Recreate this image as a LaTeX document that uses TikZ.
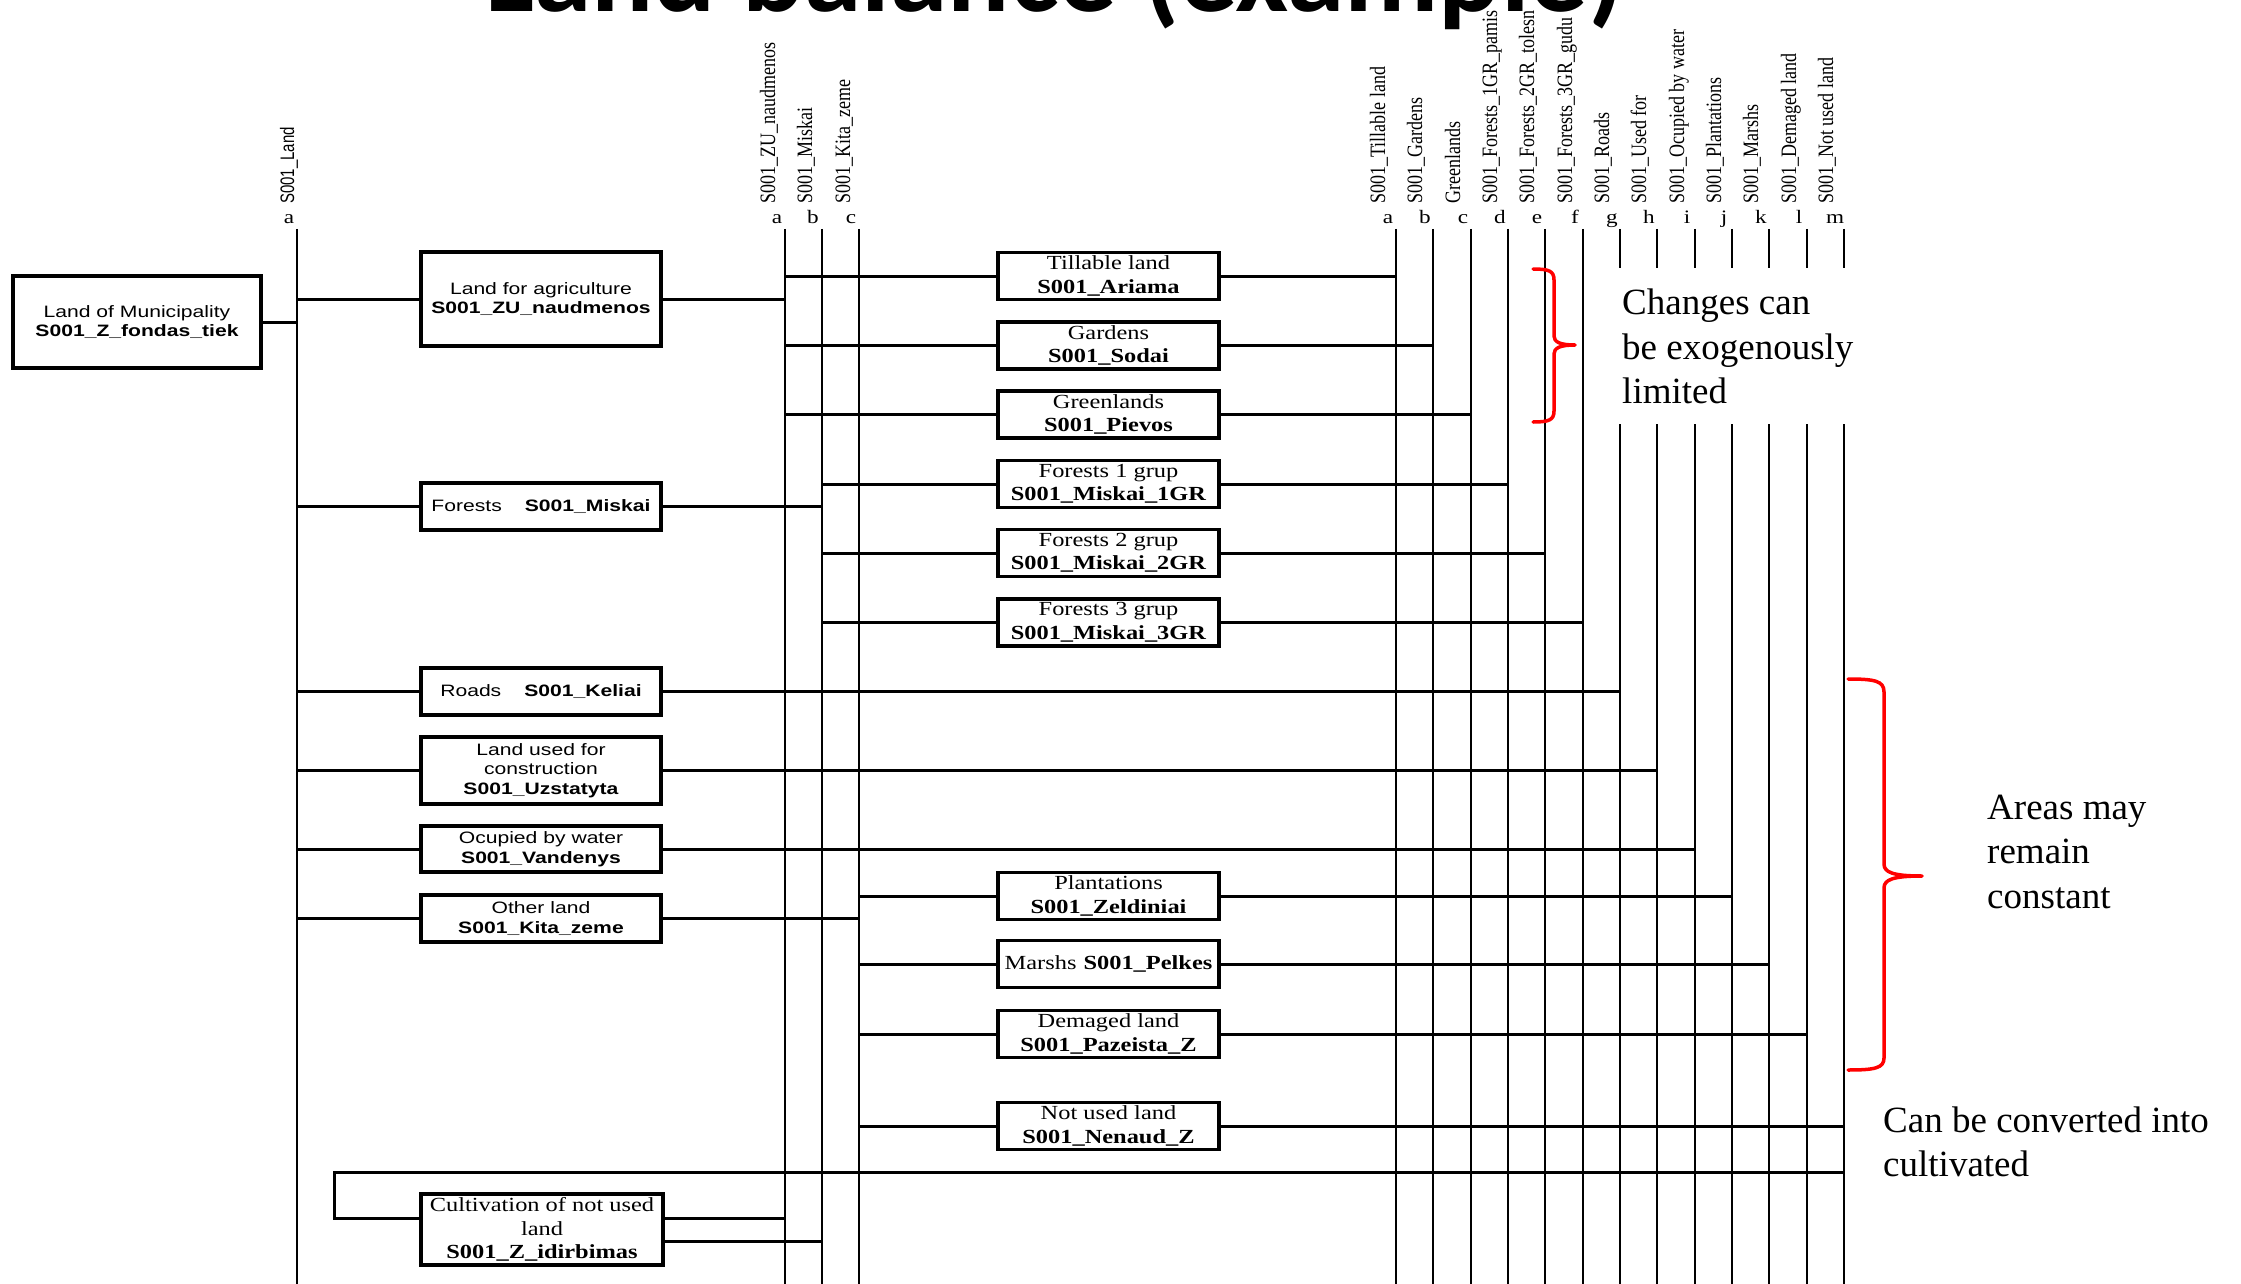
\documentclass[tikz,border=0pt]{standalone}
\usepackage{fontspec}
\usepackage{graphicx}
\setmainfont{Liberation Serif}
\newfontfamily\boxsans[FakeStretch=1.28]{Liberation Sans}
\newfontfamily\boxserif[FakeStretch=1.22]{Liberation Serif}
\newfontfamily\plainsans{Liberation Sans}
\newfontfamily\titlefont{Carlito}
\newcommand\lbxfont{\boxsans\fontsize{16.5}{19.5}\selectfont}
\newcommand\mbxfont{\boxserif\fontsize{20}{23.5}\selectfont}
\newcommand\vlabserif[1]{\scalebox{1}[1.22]{\fontsize{18}{18}\selectfont #1}}
\newcommand\vlabsans[1]{\scalebox{1}[1.3]{\plainsans\fontsize{15}{15}\selectfont #1}}
\begin{document}
\begin{tikzpicture}[x=1pt,y=-1pt,
  box/.style={draw, line width=3.3pt, inner sep=0pt, align=center},
  lbox/.style={box, minimum width=240pt, font=\lbxfont},
  mbox/.style={box, minimum width=221pt, minimum height=47pt, font=\mbxfont},
  bus/.style={line width=2.2pt},
  conn/.style={line width=3pt},
  brace/.style={red, line width=3.5pt, line join=round, line cap=round},
  vlab/.style={rotate=90, anchor=base west, inner sep=0pt},
  letter/.style={anchor=base, inner sep=0pt, font=\boxserif\fontsize{19}{19}\selectfont},
  note/.style={anchor=base west, inner sep=0pt, font=\fontsize{37}{44.5}\selectfont}]
\useasboundingbox (0,0) rectangle (2241,1284);
\fill[white] (0,0) rectangle (2241,1284);

% bus coordinates
\foreach \n/\x in {La/297, Ma/785, Mb/822, Mc/859, Ra/1396, Rb/1433, Rc/1471, Rd/1508, Re/1545, Rf/1583, Rg/1620, Rh/1657, Ri/1695, Rj/1732, Rk/1769, Rl/1807, Rm/1844}{
  \coordinate (\n-t) at (\x,229);
  \coordinate (\n-g1) at (\x,268);
  \coordinate (\n-g2) at (\x,424);
  \coordinate (\n-b) at (\x,1284);
}
\foreach \n in {La,Ma,Mb,Mc,Ra,Rb,Rc,Rd,Re,Rf}{\draw[bus] (\n-t) -- (\n-b);}
\foreach \n in {Rg,Rh,Ri,Rj,Rk,Rl,Rm}{\draw[bus] (\n-t) -- (\n-g1); \draw[bus] (\n-g2) -- (\n-b);}

% vertical labels
\node[vlab] (vLand) at (294,204) {\vlabsans{S001\_Land}};
\node[vlab] (vZU) at (775,204) {\vlabserif{S001\_ZU\_naudmenos}};
\node[vlab] (vMis) at (812,204) {\vlabserif{S001\_Miskai}};
\node[vlab] (vKit) at (850,204) {\vlabserif{S001\_Kita\_zeme}};
\node[vlab] (vRa) at (1385,204) {\vlabserif{S001\_Tillable land}};
\node[vlab] (vRb) at (1422,204) {\vlabserif{S001\_Gardens}};
\node[vlab] (vRc) at (1460,204) {\vlabserif{Greenlands}};
\node[vlab] (vRd) at (1497,204) {\vlabserif{S001\_Forests\_1GR\_pamis}};
\node[vlab] (vRe) at (1534,204) {\vlabserif{S001\_Forests\_2GR\_tolesn}};
\node[vlab] (vRf) at (1572,204) {\vlabserif{S001\_Forests\_3GR\_gudu}};
\node[vlab] (vRg) at (1609,204) {\vlabserif{S001\_Roads}};
\node[vlab] (vRh) at (1646,204) {\vlabserif{S001\_Used for}};
\node[vlab] (vRi) at (1684,204) {\vlabserif{S001\_Ocupied by water}};
\node[vlab] (vRj) at (1721,204) {\vlabserif{S001\_Plantations}};
\node[vlab] (vRk) at (1758,204) {\vlabserif{S001\_Marshs}};
\node[vlab] (vRl) at (1796,204) {\vlabserif{S001\_Demaged land}};
\node[vlab] (vRm) at (1833,204) {\vlabserif{S001\_Not used land}};

% letters
\node[letter] (tLa) at (289,224) {a};
\node[letter] (tMa) at (777,224) {a};
\node[letter] (tMb) at (813,224) {b};
\node[letter] (tMc) at (851,224) {c};
\foreach \l/\x in {a/1388, b/1425, c/1463, d/1500, e/1537, f/1575, g/1612, h/1649, i/1687, j/1724, k/1761, l/1799, m/1835}{
  \node[letter] (tR\l) at (\x,224) {\l};
}

% left boxes
\node[lbox, minimum width=248pt, minimum height=92pt] (muni) at (137,322) {Land of Municipality\\\textbf{S001\_Z\_fondas\_tiek}};
\node[lbox, minimum height=94pt] (agri) at (541,299) {Land for agriculture\\\textbf{S001\_ZU\_naudmenos}};
\node[lbox, minimum height=47pt] (fores) at (541,506.5) {Forests\hspace{23pt}\textbf{S001\_Miskai}};
\node[lbox, minimum height=47pt] (roads) at (541,691.5) {Roads\hspace{23pt}\textbf{S001\_Keliai}};
\node[lbox, minimum height=67pt] (constr) at (541,770.5) {Land used for\\construction\\\textbf{S001\_Uzstatyta}};
\node[lbox, minimum height=46pt] (water) at (541,849) {Ocupied by water\\\textbf{S001\_Vandenys}};
\node[lbox, minimum height=47pt] (other) at (541,918.5) {Other land\\\textbf{S001\_Kita\_zeme}};
\node[box, font=\mbxfont, minimum width=242pt, minimum height=71pt] (cult) at (542,1229.5) {Cultivation of not used\\land\\\textbf{S001\_Z\_idirbimas}};

% middle boxes
\node[mbox] (till) at (1108.5,276) {Tillable land\\\textbf{S001\_Ariama}};
\node[mbox] (gard) at (1108.5,345.5) {Gardens\\\textbf{S001\_Sodai}};
\node[mbox] (green) at (1108.5,414.5) {Greenlands\\\textbf{S001\_Pievos}};
\node[mbox] (fa) at (1108.5,484) {Forests 1 grup\\\textbf{S001\_Miskai\_1GR}};
\node[mbox] (fb) at (1108.5,553) {Forests 2 grup\\\textbf{S001\_Miskai\_2GR}};
\node[mbox] (fc) at (1108.5,622.5) {Forests 3 grup\\\textbf{S001\_Miskai\_3GR}};
\node[mbox] (plant) at (1108.5,896) {Plantations\\\textbf{S001\_Zeldiniai}};
\node[mbox] (marsh) at (1108.5,964) {Marshs\hspace{7pt}\textbf{S001\_Pelkes}};
\node[mbox] (dem) at (1108.5,1034) {Demaged land\\\textbf{S001\_Pazeista\_Z}};
\node[mbox] (notu) at (1108.5,1126) {Not used land\\\textbf{S001\_Nenaud\_Z}};

% connectors
\draw[conn] (muni.east) -- (muni.east -| La-t);
\foreach \b in {agri,fores,roads,constr,water,other}{\draw[conn] (\b.west -| La-t) -- (\b.west);}
\draw[conn] (agri.east) -- (agri.east -| Ma-t);
\draw[conn] (fores.east) -- (fores.east -| Mb-t);
\draw[conn] (other.east) -- (other.east -| Mc-t);
\foreach \b in {till,gard,green}{\draw[conn] (\b.west -| Ma-t) -- (\b.west);}
\foreach \b in {fa,fb,fc}{\draw[conn] (\b.west -| Mb-t) -- (\b.west);}
\foreach \b in {plant,marsh,dem,notu}{\draw[conn] (\b.west -| Mc-t) -- (\b.west);}
\foreach \b/\r in {till/Ra, gard/Rb, green/Rc, fa/Rd, fb/Re, fc/Rf, roads/Rg, constr/Rh, water/Ri, plant/Rj, marsh/Rk, dem/Rl, notu/Rm}{
  \draw[conn] (\b.east) -- (\b.east -| \r-t);
}
\coordinate (fbk) at (334,1172);
\draw[conn] (Rm-t |- fbk) -- (fbk) |- ([yshift=11.5pt]cult.west);
\draw[conn] ([yshift=11.5pt]cult.east) -- ([yshift=11.5pt]cult.east -| Ma-t);
\draw[conn] ([yshift=-11.5pt]cult.east) -- ([yshift=-11.5pt]cult.east -| Mb-t);

% braces
\draw[brace] (1533,269) .. controls (1549,269) and (1554,271) .. (1554,280) -- (1554,336) .. controls (1554,342) and (1560,345) .. (1575,345) .. controls (1560,345) and (1554,348) .. (1554,354) -- (1554,411) .. controls (1554,420) and (1549,422) .. (1533,422);
\draw[brace] (1848,679) .. controls (1875,679) and (1884,681) .. (1884,692) -- (1884,864) .. controls (1884,872) and (1892,876) .. (1922,876) .. controls (1892,876) and (1884,880) .. (1884,888) -- (1884,1058) .. controls (1884,1068) and (1875,1070) .. (1848,1070);

% notes
\node[note] (n1) at (1622,314) {Changes can};
\node[note] (n2) at (1622,359) {be exogenously};
\node[note] (n3) at (1622,403) {limited};
\node[note] (n4) at (1987,819) {Areas may};
\node[note] (n5) at (1987,863) {remain};
\node[note] (n6) at (1987,908) {constant};
\node[note] (n7) at (1883,1132) {Can be converted into};
\node[note] (n8) at (1883,1176) {cultivated};

% title
\node[anchor=base west, inner sep=0pt, font=\titlefont\bfseries\fontsize{116}{116}\selectfont] (title) at (485,12) {Land balance (example)};
\end{tikzpicture}
\end{document}
